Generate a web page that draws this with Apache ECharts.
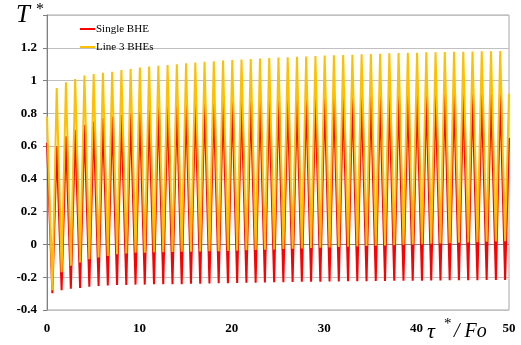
<!DOCTYPE html>
<html>
<head>
<meta charset="utf-8">
<script src="https://cdn.jsdelivr.net/npm/echarts@6/dist/echarts.min.js"></script>
<style>
  html, body { margin: 0; padding: 0; background: #fff; }
  #chart { width: 521px; height: 345px; }
</style>
</head>
<body>
<div id="chart"></div>
<script>
// dimensionless temperature T* vs tau*/Fo

var seriesNames = ["Single BHE", "Line 3 BHEs"];
var xTicks = [0, 10, 20, 30, 40, 50];

// time offsets inside one period (period = 1)
var peakPhase = 0.05;
var troughPhase = 0.58;

// start value (tau=0) and end value (tau=50)
var singleEnds = [0.62, 0.65];
var lineEnds = [0.78, 0.92];

// peaks at k + peakPhase, k = 1..49
var singlePeaks = [
  0.60, 0.66, 0.70, 0.73, 0.75, 0.77, 0.78, 0.79, 0.80, 0.81,
  0.82, 0.84, 0.845, 0.85, 0.855, 0.86, 0.865, 0.87, 0.875, 0.88,
  0.882, 0.885, 0.887, 0.89, 0.891, 0.893, 0.894, 0.896, 0.897, 0.90,
  0.901, 0.902, 0.903, 0.904, 0.905, 0.906, 0.907, 0.908, 0.909, 0.91,
  0.911, 0.912, 0.913, 0.914, 0.915, 0.916, 0.917, 0.918, 0.92
];
var linePeaks = [
  0.955, 0.99, 1.01, 1.03, 1.04, 1.048, 1.054, 1.064, 1.07, 1.08,
  1.085, 1.09, 1.095, 1.10, 1.105, 1.11, 1.115, 1.118, 1.122, 1.125,
  1.128, 1.131, 1.134, 1.137, 1.14, 1.142, 1.145, 1.147, 1.15, 1.152,
  1.154, 1.156, 1.158, 1.16, 1.162, 1.164, 1.166, 1.168, 1.169, 1.17,
  1.172, 1.173, 1.174, 1.175, 1.176, 1.177, 1.178, 1.179, 1.18
];

// troughs at k + troughPhase, k = 0..49
var singleTroughs = [
  -0.298, -0.28, -0.27, -0.265, -0.258, -0.253, -0.25, -0.247, -0.247, -0.245,
  -0.245, -0.243, -0.243, -0.242, -0.242, -0.24, -0.239, -0.238, -0.237, -0.236,
  -0.235, -0.234, -0.233, -0.232, -0.231, -0.23, -0.229, -0.228, -0.228, -0.227,
  -0.226, -0.226, -0.225, -0.224, -0.224, -0.223, -0.223, -0.222, -0.222, -0.221,
  -0.221, -0.22, -0.22, -0.219, -0.219, -0.218, -0.218, -0.217, -0.217, -0.217
];
var lineTroughs = [
  -0.28, -0.17, -0.13, -0.11, -0.09, -0.08, -0.07, -0.06, -0.055, -0.05,
  -0.05, -0.048, -0.047, -0.046, -0.045, -0.044, -0.043, -0.042, -0.041, -0.04,
  -0.038, -0.036, -0.034, -0.032, -0.03, -0.028, -0.026, -0.024, -0.022, -0.02,
  -0.018, -0.016, -0.014, -0.012, -0.01, -0.008, -0.006, -0.004, -0.002, 0.0,
  0.002, 0.004, 0.006, 0.008, 0.01, 0.012, 0.014, 0.016, 0.018, 0.02
];

function buildSeries(ends, peaks, troughs) {
  var pts = [[0, ends[0]]];
  for (var k = 0; k < troughs.length; k++) {
    pts.push([k + troughPhase, troughs[k]]);
    if (k < peaks.length) pts.push([k + 1 + peakPhase, peaks[k]]);
  }
  pts.push([50, ends[1]]);
  return pts;
}

var serif = "Liberation Serif";
var Chart1 = echarts.init(document.getElementById("chart"));
var option = {
  animation: false,
  grid: {
    left: 47, right: 12, top: 15, bottom: 35,
    show: true, borderColor: "#a6a6a6", borderWidth: 1
  },
  legend: {
    orient: "vertical",
    left: 75, top: 18,
    itemWidth: 15, itemHeight: 2, itemGap: 6,
    icon: "rect",
    textStyle: { fontFamily: serif, fontSize: 11, color: "#000", lineHeight: 12, padding: [0, 0, 0, -4] },
    data: seriesNames
  },
  xAxis: {
    type: "value",
    min: 0, max: 50, interval: 10,
    axisLine: { show: false },
    axisTick: { show: false },
    splitLine: { show: false },
    axisLabel: {
      margin: 12,
      fontFamily: serif, fontSize: 13, fontWeight: "bold", color: "#000",
      formatter: function (v) { return xTicks.indexOf(v) >= 0 ? String(v) : ""; }
    }
  },
  yAxis: {
    type: "value",
    min: -0.4, max: 1.4, interval: 0.2,
    axisLine: { show: true, lineStyle: { color: "#808080" } },
    axisTick: { show: true, length: 4, lineStyle: { color: "#808080" } },
    splitLine: { show: true, lineStyle: { color: "#c0c0c0", width: 1 } },
    axisLabel: {
      margin: 10,
      fontFamily: serif, fontSize: 13, fontWeight: "bold", color: "#000",
      formatter: function (v) {
        var r = parseFloat(v.toFixed(1));
        return r > 1.3 ? "" : String(r);
      }
    }
  },
  series: [
    {
      name: seriesNames[0],
      type: "line",
      data: buildSeries(singleEnds, singlePeaks, singleTroughs),
      showSymbol: false,
      color: "#ff0000",
      lineStyle: { width: 2, color: "#ff0000" },
      markLine: {
        silent: true, symbol: "none", label: { show: false },
        lineStyle: { color: "#808080", width: 1, type: "solid" },
        data: [{ yAxis: 0 }],
        z: 1
      },
      z: 2
    },
    {
      name: seriesNames[1],
      type: "line",
      data: buildSeries(lineEnds, linePeaks, lineTroughs),
      showSymbol: false,
      color: "#ffc000",
      lineStyle: { width: 2, color: "#ffc000" },
      z: 3
    }
  ],
  graphic: [
    { type: "text", left: 16, top: 3,
      style: { text: "T", font: "italic 25px " + serif, fill: "#000" } },
    { type: "text", left: 36, top: 2,
      style: { text: "*", font: "16px " + serif, fill: "#000" } },
    { type: "text", left: 427, top: 321,
      style: { text: "\u03c4", font: "italic 22px " + serif, fill: "#000" } },
    { type: "text", left: 444, top: 317,
      style: { text: "*", font: "15px " + serif, fill: "#000" } },
    { type: "text", left: 454, top: 322,
      style: { text: "/ Fo", font: "italic 20px " + serif, fill: "#000" } }
  ]
};
Chart1.setOption(option);
</script>
</body>
</html>
